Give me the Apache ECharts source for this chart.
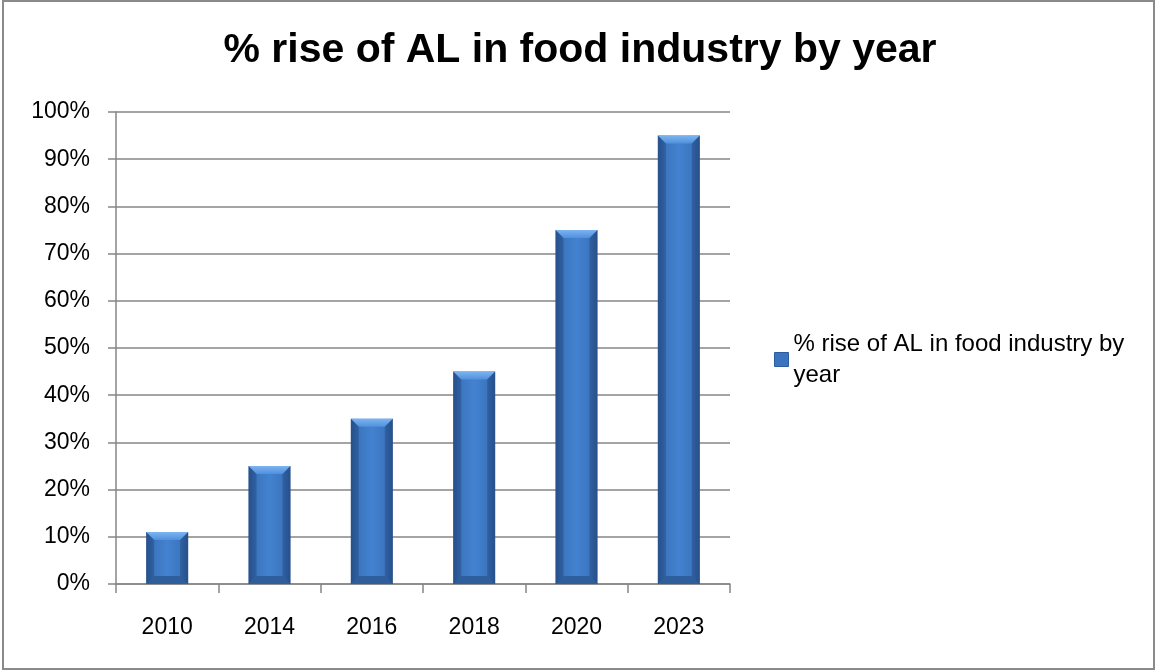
<!DOCTYPE html>
<html>
<head>
<meta charset="utf-8">
<script src="https://cdn.jsdelivr.net/npm/echarts@6/dist/echarts.min.js"></script>
<style>
  html, body { margin: 0; padding: 0; background: #fff; }
  #chart { width: 1157px; height: 672px; }
</style>
</head>
<body>
<div id="chart"></div>
<script>
const titleText = '% rise of AL in food industry by year';
const seriesName = '% rise of AL in food industry by year';
const categories = ['2010', '2014', '2016', '2018', '2020', '2023'];
const values = [11, 25, 35, 45, 75, 95];
const yTicks = { min: 0, max: 100, interval: 10 };

const FONT = 'Liberation Sans, Arial, sans-serif';
const GRAY = '#868686';

const chart = echarts.init(document.getElementById('chart'));

function renderBar(params, api) {
  const catIdx = api.value(0);
  const val = api.value(1);
  const top = api.coord([catIdx, val]);
  const base = api.coord([catIdx, 0]);
  const w = 42;
  const x0 = top[0] - w / 2, x1 = top[0] + w / 2;
  const y0 = top[1], y1 = base[1];
  const b = Math.min(8, (y1 - y0) / 3);
  return {
    type: 'group',
    children: [
      { type: 'rect', shape: { x: x0, y: y0, width: w, height: y1 - y0 },
        style: { fill: new echarts.graphic.LinearGradient(0, 0, 1, 0, [
          { offset: 0, color: '#2C5C9B' }, { offset: 0.2, color: '#3C76C0' },
          { offset: 0.5, color: '#4382D0' }, { offset: 0.8, color: '#3C76C0' },
          { offset: 1, color: '#2C5C9B' }]) } },
      { type: 'polygon', shape: { points: [[x0, y0], [x1, y0], [x1 - b, y0 + b], [x0 + b, y0 + b]] },
        style: { fill: new echarts.graphic.LinearGradient(0, 0, 0, 1, [
          { offset: 0, color: '#7DB4F0' }, { offset: 1, color: '#4F90DD' }]) } },
      { type: 'polygon', shape: { points: [[x0, y1], [x1, y1], [x1 - b, y1 - b], [x0 + b, y1 - b]] },
        style: { fill: '#2E5E9C' } },
      { type: 'polygon', shape: { points: [[x0, y0], [x0 + b, y0 + b], [x0 + b, y1 - b], [x0, y1]] },
        style: { fill: 'rgba(30,60,110,0.35)' } },
      { type: 'polygon', shape: { points: [[x1, y0], [x1 - b, y0 + b], [x1 - b, y1 - b], [x1, y1]] },
        style: { fill: 'rgba(30,60,110,0.35)' } }
    ]
  };
}

const option = {
  backgroundColor: '#fff',
  animation: false,
  title: {
    text: titleText,
    left: 575,
    textAlign: 'center',
    top: 25,
    textStyle: { fontFamily: FONT, fontSize: 41, fontWeight: 'bold', color: '#000' }
  },
  legend: {
    data: [{ name: seriesName, icon: 'rect', itemStyle: { color: '#3A74BE', borderColor: '#2C5C9B', borderWidth: 1 } }],
    left: 774,
    top: 313,
    padding: 0,
    itemWidth: 14,
    itemHeight: 14,
    itemGap: 6,
    formatter: function () { return '% rise of AL in food industry by\nyear'; },
    textStyle: { fontFamily: FONT, fontSize: 24, color: '#000', lineHeight: 31, padding: [31, 0, 0, 0] }
  },
  grid: { left: 116, right: 427, top: 112, bottom: 88, containLabel: false },
  xAxis: {
    type: 'category',
    data: categories,
    boundaryGap: true,
    axisLine: { lineStyle: { color: GRAY, width: 1.5 } },
    axisTick: { show: true, length: 9, interval: 0, alignWithLabel: false, lineStyle: { color: GRAY, width: 1.5 } },
    axisLabel: { margin: 32, fontFamily: FONT, fontSize: 23, color: '#000' },
    splitLine: { show: false }
  },
  yAxis: {
    type: 'value',
    min: yTicks.min,
    max: yTicks.max,
    interval: yTicks.interval,
    axisLine: { show: true, lineStyle: { color: GRAY, width: 1.5 } },
    axisTick: { show: true, length: 8, lineStyle: { color: GRAY, width: 1.5 } },
    axisLabel: { formatter: '{value}%', margin: 26, fontFamily: FONT, fontSize: 23, color: '#000' },
    splitLine: { show: true, lineStyle: { color: GRAY, width: 1.5 } }
  },
  graphic: [{
    type: 'rect', silent: true, z: 100,
    shape: { x: 3, y: 1, width: 1151, height: 668 },
    style: { fill: 'none', stroke: '#8a8a8a', lineWidth: 2 }
  }],
  series: [{
    name: seriesName,
    type: 'custom',
    renderItem: renderBar,
    encode: { x: 0, y: 1 },
    itemStyle: { color: '#3A74BE' },
    data: categories.map((c, i) => [i, values[i]]),
    z: 3
  }]
};

chart.setOption(option);
</script>
</body>
</html>
